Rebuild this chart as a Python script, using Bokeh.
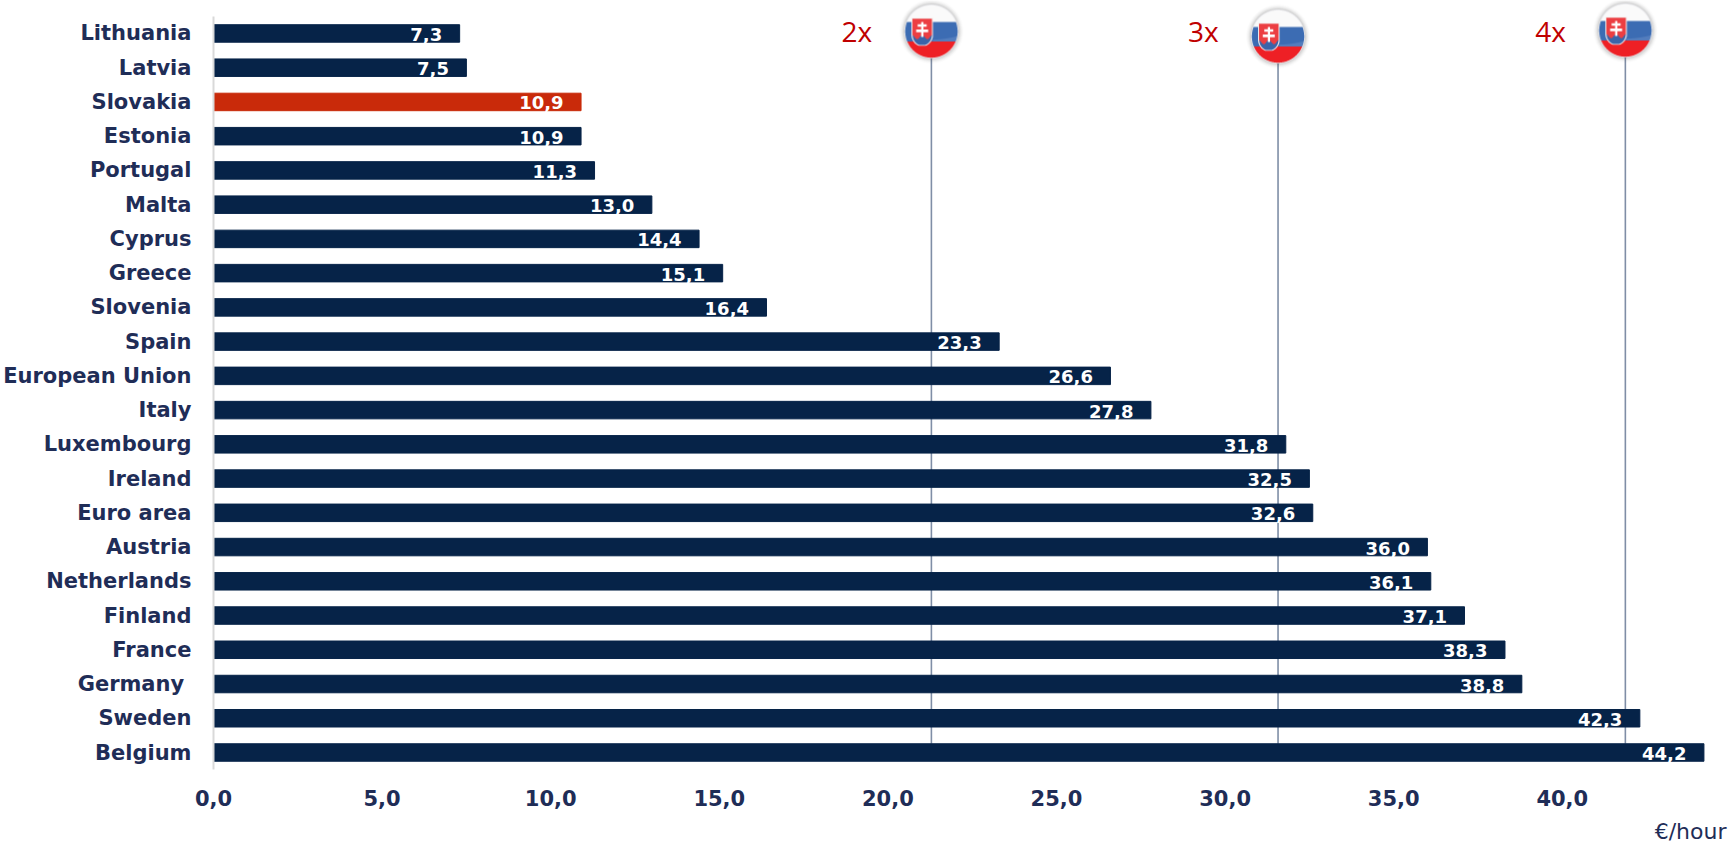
from bokeh.core.properties import value
from bokeh.embed import file_html
from bokeh.models import ColumnDataSource, FixedTicker, Label, Title
from bokeh.plotting import figure
from bokeh.resources import INLINE
import numpy as np

# Hourly labour cost by country, lowest first
countries = ["Lithuania", "Latvia", "Slovakia", "Estonia", "Portugal", "Malta", "Cyprus", "Greece",
             "Slovenia", "Spain", "European Union", "Italy", "Luxembourg", "Ireland", "Euro area",
             "Austria", "Netherlands", "Finland", "France", "Germany ", "Sweden", "Belgium"]
costs = [7.3, 7.5, 10.9, 10.9, 11.3, 13.0, 14.4, 15.1, 16.4, 23.3, 26.6, 27.8, 31.8, 32.5, 32.6,
         36.0, 36.1, 37.1, 38.3, 38.8, 42.3, 44.2]
x_ticks = [0, 5, 10, 15, 20, 25, 30, 35, 40]
multiple_names = ["2x", "3x", "4x"]
multiple_costs = [21.29, 31.57, 41.87]
badge_centres_y = [31, 36, 30]   # pixels from the top of the plot
highlight = "Slovakia"

NAVY, RED, INK, CRIMSON = "#062348", "#c92a0a", "#1f2d57", "#c00000"
FONT = "DejaVu Sans"
W, H = 1735, 850
LEFT, BOTTOM = 212, 81
FRAME_W, FRAME_H = W - LEFT, H - BOTTOM
PX_PER_EUR = 33.72
ROW_PX = 34.24
LAST_ROW_PX = 752   # centre of the bottom bar


def y_of_px(px):
    return (LAST_ROW_PX - px) / ROW_PX


def slovak_badge(radius=27, margin=7, ss=4):
    """Glossy round flag badge with a soft shadow, as an RGBA pixel array."""
    size = 2 * (radius + margin)
    n = size * ss
    yy, xx = np.mgrid[0:n, 0:n]
    u = ((xx + 0.5) / ss - size / 2) / radius
    v = ((yy + 0.5) / ss - size / 2) / radius
    r = np.hypot(u, v)
    rgb = np.ones((n, n, 3))
    rgb[:] = np.array([250, 250, 250]) / 255
    rgb[v > -0.35] = np.array([60, 108, 180]) / 255
    rgb[v > 0.37] = np.array([238, 32, 38]) / 255

    # faint gloss arc along the bottom of the blue stripe
    arc = 0.36 - 0.14 * np.clip(u, 0, 1) ** 2
    gloss = (v > arc - 0.06) & (v <= 0.37) & (u > 0.05)
    rgb[gloss] = rgb[gloss] * 0.88 + 0.12

    # shield
    def shield_mask(su, sv):
        half = np.where(sv < 0.6, 1.0, np.sqrt(np.clip(1 - ((sv - 0.6) / 0.42) ** 2, 0, 1)))
        return (sv > 0) & (sv < 1) & (np.abs(su) < half)

    su = (u + 0.34) / 0.40
    sv = (v + 0.50) / 1.03
    rgb[shield_mask(su, sv)] = np.array([245, 238, 238]) / 255
    su2 = su / 0.90
    sv2 = (sv - 0.03) / 0.94
    inner = shield_mask(su2, sv2)
    rgb[inner] = np.array([236, 62, 66]) / 255
    hills = inner & (sv2 > 0.70 - 0.08 * np.cos(su2 * 6.0))
    rgb[hills] = np.array([58, 100, 170]) / 255
    cross = (np.abs(su) < 0.11) & (sv > 0.14) & (sv < 0.68)
    cross |= (np.abs(su) < 0.42) & (np.abs(sv - 0.27) < 0.045)
    cross |= (np.abs(su) < 0.56) & (np.abs(sv - 0.46) < 0.05)
    rgb[cross & inner] = 1.0

    # pale rim
    rim = (r > 0.97) & (r <= 1.0)
    rgb[rim] = np.array([232, 232, 236]) / 255

    # soft shadow outside the disc, then the disc on top
    shadow = np.clip(1 - (r - 1.0) * radius / (margin - 1), 0, 1) ** 2 * 0.28
    alpha = np.where(r <= 1.0, 1.0, shadow)
    rgb[r > 1.0] = np.array([70, 70, 70]) / 255

    rgba = np.dstack([rgb, alpha])
    # average the oversampled pixels down, weighted by coverage
    rgba[..., :3] *= rgba[..., 3:]
    small = rgba.reshape(size, ss, size, ss, 4).mean(axis=(1, 3))
    a = np.clip(small[..., 3:], 1e-6, 1)
    small[..., :3] /= a
    img = (np.clip(small, 0, 1) * 255).astype(np.uint8)
    out = img[..., 0].astype(np.uint32) | img[..., 1].astype(np.uint32) << 8 \
        | img[..., 2].astype(np.uint32) << 16 | img[..., 3].astype(np.uint32) << 24
    return out[::-1], size


rows = [len(countries) - 1 - i for i in range(len(countries))]
source = ColumnDataSource(dict(
    row=rows,
    cost=costs,
    colour=[RED if c == highlight else NAVY for c in countries],
    label=[f"{c:.1f}".replace(".", ",") for c in costs],
))

p = figure(
    width=W, height=H, output_backend="svg", toolbar_location=None,
    x_range=(0, FRAME_W / PX_PER_EUR), y_range=(y_of_px(FRAME_H), y_of_px(0)),
    min_border_left=LEFT, min_border_right=0, min_border_top=0, min_border_bottom=BOTTOM,
    frame_width=FRAME_W, frame_height=FRAME_H,
    outline_line_color=None, background_fill_color="white", border_fill_color="white",
)
p.grid.visible = False

# Multiple-of-Slovakia reference lines sit behind the bars
badge, badge_size = slovak_badge()
bar_top_px = LAST_ROW_PX - 17.5 / 2
for name, cost, cy in zip(multiple_names, multiple_costs, badge_centres_y):
    p.segment(x0=[cost], x1=[cost], y0=[y_of_px(bar_top_px)], y1=[y_of_px(cy + 24)],
              line_color="#7f8ea6", line_width=1.6)

p.hbar(y="row", left=0, right="cost", height=17.5 / ROW_PX, color="colour", source=source)

p.text(x="cost", y="row", text="label", source=source, text_color="white",
       text_font=value(FONT), text_font_style="bold", text_font_size="18px",
       text_align="right", text_baseline="middle", x_offset=-17.5, y_offset=1)

for name, cost, cy in zip(multiple_names, multiple_costs, badge_centres_y):
    p.image_rgba(image=[badge], x=[cost - badge_size / 2 / PX_PER_EUR], y=[y_of_px(cy + badge_size / 2)],
                 dw=[badge_size / PX_PER_EUR], dh=[badge_size / ROW_PX])
    p.add_layout(Label(x=cost, y=y_of_px(30), text=name, x_offset=-90, text_color=CRIMSON,
                       text_font="Open Sans", text_font_size="28px", text_baseline="middle"))

xax = p.xaxis[0]
xax.ticker = FixedTicker(ticks=x_ticks)
xax.major_label_overrides = {t: f"{t:.1f}".replace(".", ",") for t in x_ticks}
xax.axis_line_color = None
xax.major_tick_line_color = None
xax.minor_tick_line_color = None
xax.major_label_text_font = FONT
xax.major_label_text_font_style = "bold"
xax.major_label_text_font_size = "21px"
xax.major_label_text_color = INK
xax.major_label_standoff = 14

yax = p.yaxis[0]
yax.ticker = FixedTicker(ticks=rows)
yax.major_label_overrides = dict(zip(rows, countries))
yax.bounds = (y_of_px(FRAME_H), y_of_px(16))
yax.axis_line_color = "#d9d9d9"
yax.axis_line_width = 2
yax.major_tick_line_color = None
yax.minor_tick_line_color = None
yax.major_label_text_font = FONT
yax.major_label_text_font_style = "bold"
yax.major_label_text_font_size = "21px"
yax.major_label_text_color = INK
yax.major_label_standoff = 16

# Unit note under the value axis, at the right-hand end
p.add_layout(Title(text="€/hour", align="right", offset=10, standoff=16, text_color=INK,
                   text_font=FONT, text_font_size="22px", text_font_style="normal"), "below")

open("out.html", "w").write(file_html(p, INLINE))
